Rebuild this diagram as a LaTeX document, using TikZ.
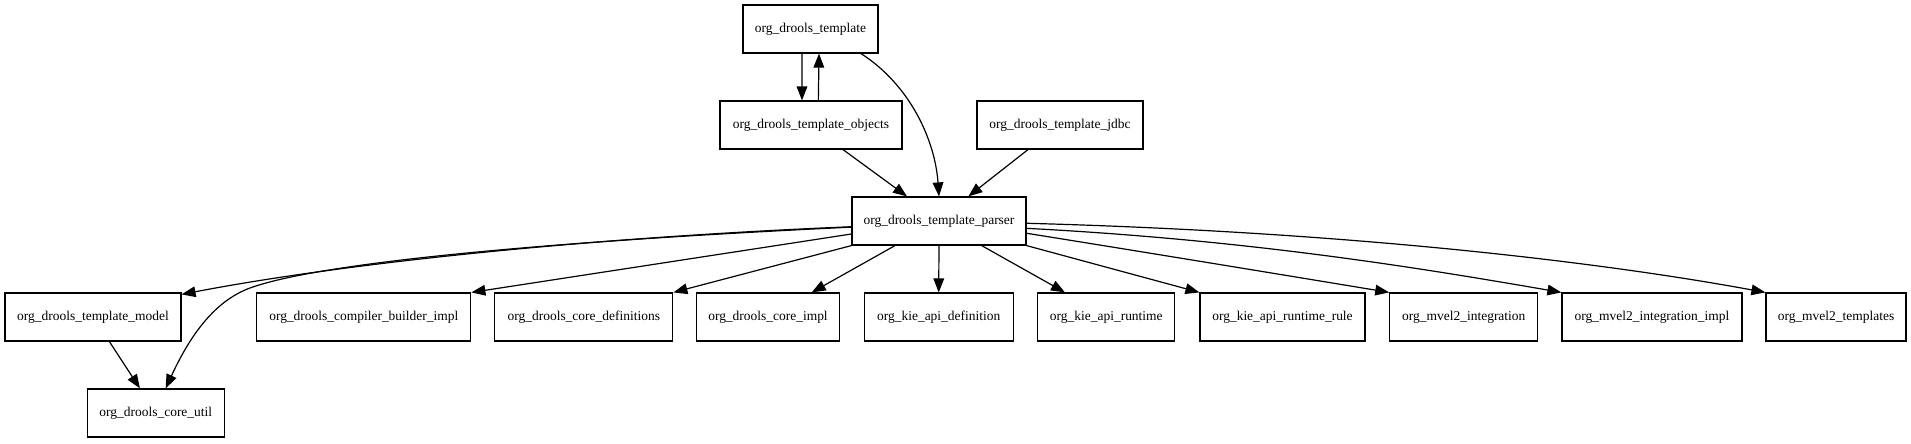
\documentclass[tikz,border=0pt]{standalone}
\usepackage{fontspec}
\setmainfont{Liberation Serif}
\usetikzlibrary{arrows.meta}
\begin{document}
\begin{tikzpicture}[x=0.75pt,y=-0.75pt,
  pkg/.style={draw,line width=0.9pt,rectangle,inner sep=0pt,minimum height=36pt,font=\fontsize{10.1pt}{12pt}\selectfont},
  dep/.style={line width=0.9pt,-{Triangle[length=10.5pt,width=8pt]}}]
\useasboundingbox (0,0) rectangle (1911,443);
\node[pkg,minimum width=101.25pt] (template) at (810.5,29) {org\_drools\_template};
\node[pkg,minimum width=136.5pt] (objects) at (811,125) {org\_drools\_template\_objects};
\node[pkg,minimum width=124.5pt] (jdbc) at (1060,125) {org\_drools\_template\_jdbc};
\node[pkg,minimum width=130.5pt] (parser) at (939,221) {org\_drools\_template\_parser};
\node[pkg,minimum width=132pt] (model) at (93,317) {org\_drools\_template\_model};
\node[pkg,minimum width=102.75pt] (coreutil) at (155.8,413) {org\_drools\_core\_util};
\node[pkg,minimum width=160.5pt] (compiler) at (363.8,317) {org\_drools\_compiler\_builder\_impl};
\node[pkg,minimum width=133.5pt] (coredef) at (583.8,317) {org\_drools\_core\_definitions};
\node[pkg,minimum width=107.25pt] (coreimpl) at (768,317) {org\_drools\_core\_impl};
\node[pkg,minimum width=111.75pt] (kiedef) at (938.7,317) {org\_kie\_api\_definition};
\node[pkg,minimum width=102.75pt] (kiert) at (1106.3,317) {org\_kie\_api\_runtime};
\node[pkg,minimum width=123.75pt] (kierule) at (1282.5,317) {org\_kie\_api\_runtime\_rule};
\node[pkg,minimum width=111pt] (mvelint) at (1463.8,317) {org\_mvel2\_integration};
\node[pkg,minimum width=135pt] (mvelimpl) at (1652,317) {org\_mvel2\_integration\_impl};
\node[pkg,minimum width=105pt] (mveltpl) at (1836,317) {org\_mvel2\_templates};
% top part
\draw[dep] ([xshift=-6.4pt]template.south) -- ([xshift=-6.75pt]objects.north);
\draw[dep] ([xshift=5.5pt]objects.north) -- ([xshift=6.4pt]template.south);
\draw[dep] ([xshift=37.9pt]template.south) .. controls (910,85) and (935,140) .. (parser.north);
\draw[dep] ([xshift=24pt]objects.south) -- ([xshift=-24pt]parser.north);
\draw[dep] ([xshift=-24pt]jdbc.south) -- ([xshift=22pt]parser.north);
% parser fan-out
\draw[dep] ([yshift=-4.3pt]parser.west) .. controls (600,237) and (350,262) .. ([yshift=-1.5pt]model.north east);
\draw[dep] ([yshift=-4.6pt]parser.west) .. controls (600,239) and (330,259) .. (250,288) .. controls (212,302) and (188,340) .. ([xshift=7.4pt]coreutil.north);
\draw[dep] ([yshift=-9.75pt]parser.west) -- (compiler.north east);
\draw[dep] (parser.south west) -- (coredef.north east);
\draw[dep] ([xshift=-33pt]parser.south) -- ([xshift=32.8pt]coreimpl.north);
\draw[dep] (parser.south) -- (kiedef.north);
\draw[dep] ([xshift=32pt]parser.south) -- ([xshift=-31pt]kiert.north);
\draw[dep] (parser.south east) -- (kierule.north west);
\draw[dep] ([yshift=-9.2pt]parser.east) .. controls (1150,253) and (1290,276) .. (mvelint.north west);
\draw[dep] ([yshift=-5.5pt]parser.east) .. controls (1250,240) and (1420,268) .. (mvelimpl.north west);
\draw[dep] ([yshift=-1.7pt]parser.east) .. controls (1350,232) and (1600,262) .. (mveltpl.north west);
\draw[dep] ([xshift=12.3pt]model.south) -- ([xshift=-11.9pt]coreutil.north);
\end{tikzpicture}
\end{document}
